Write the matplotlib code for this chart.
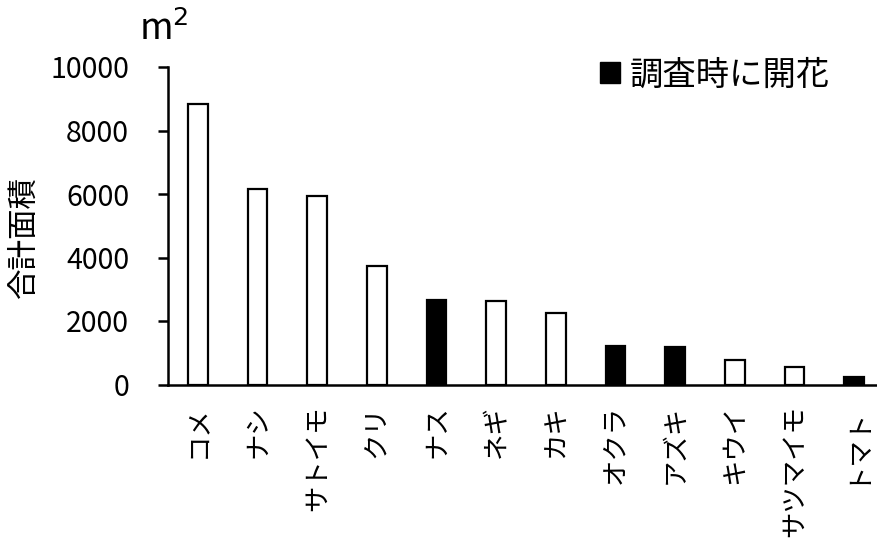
import matplotlib
matplotlib.use("Agg")
import matplotlib.pyplot as plt
from matplotlib.patches import Patch

plt.rcParams['font.family'] = ['Noto Sans CJK JP', 'DejaVu Sans']

crops = ["コメ", "ナシ", "サトイモ", "クリ", "ナス", "ネギ", "カキ",
         "オクラ", "アズキ", "キウイ", "サツマイモ", "トマト"]
area = [8850, 6150, 5940, 3730, 2660, 2630, 2250, 1220, 1170, 770, 560, 230]
flowering = [False, False, False, False, True, False, False,
             True, True, False, False, True]
yticks = [0, 2000, 4000, 6000, 8000, 10000]

fig = plt.figure(figsize=(8.77, 5.43), dpi=100)
ax = fig.add_axes([168 / 877, 1 - 384.5 / 543, 1 - 168 / 877, (384.5 - 67) / 543])

x = list(range(len(crops)))
colors = ["black" if f else "white" for f in flowering]
ax.bar(x, area, width=0.33, color=colors, edgecolor="black", linewidth=1.6)

ax.set_xlim(-0.5, 11.38)
ax.set_ylim(0, 10000)
ax.set_yticks(yticks)
ax.set_yticklabels([str(v) for v in yticks], fontsize=20.5)
ax.set_xticks(x)
ax.set_xticklabels(crops, rotation=90, fontsize=19, va="top", ha="center")
ax.tick_params(axis="x", length=0, pad=15)
ax.tick_params(axis="y", length=7, width=1.8, pad=21, direction="out")

for side in ("top", "right"):
    ax.spines[side].set_visible(False)
for side in ("left", "bottom"):
    ax.spines[side].set_linewidth(1.8)

ax.set_ylabel("合計面積", fontsize=22)
ax.yaxis.set_label_coords(-128 / 709, 0.466)

fig.text(139 / 877, 1 - 30 / 543, "m$^2$", fontsize=26, va="center", ha="left")

ax.legend(handles=[Patch(facecolor="black", edgecolor="black")],
          labels=["調査時に開花"], loc="upper right", frameon=False,
          fontsize=24, handlelength=0.6, handleheight=0.6, handletextpad=0.3,
          bbox_to_anchor=(0.976, 1.125))

fig.savefig("out.png", dpi=100)
